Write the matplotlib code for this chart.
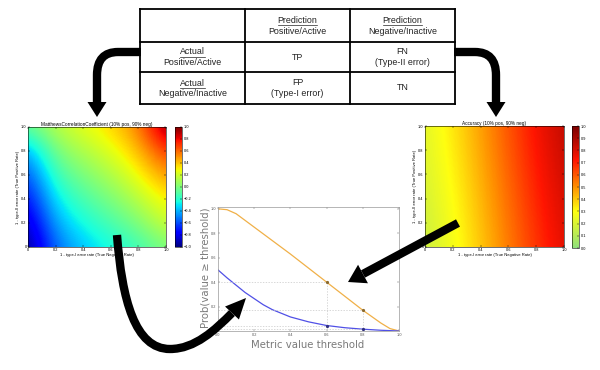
import numpy as np
import matplotlib.pyplot as plt
from matplotlib.colors import LinearSegmentedColormap
from matplotlib.path import Path
from matplotlib.patches import PathPatch, Polygon

plt.rcParams['font.family'] = ['Liberation Sans', 'DejaVu Sans']

# confusion table text
header_top = ['Prediction', 'Prediction']
header_sub = ['Positive/Active', 'Negative/Inactive']
row_top = ['Actual', 'Actual']
row_sub = ['Positive/Active', 'Negative/Inactive']
cells = [['TP', 'FN\n(Type-II error)'],
         ['FP\n(Type-I error)', 'TN']]

# MCC heatmap (rows: TPR 0..1, cols: TNR 0..1)
grid_pts = [0.0, 0.2, 0.4, 0.6, 0.8, 1.0]
mcc_vals = [
    [-1.0, -0.535, -0.361, -0.25, -0.156, 0.0],
    [-0.885, -0.41, -0.242, -0.124, 0.0, 0.2],
    [-0.758, -0.281, -0.122, 0.0, 0.145, 0.32],
    [-0.612, -0.145, 0.0, 0.122, 0.281, 0.5],
    [-0.429, 0.0, 0.124, 0.242, 0.41, 0.72],
    [-0.05, 0.156, 0.25, 0.361, 0.535, 1.0],
]
# accuracy heatmap corners
acc_pts = [0.0, 1.0]
acc_vals = [[0.0, 0.9],
            [0.1, 1.0]]

# survival curves
thr = [0, 0.05, 0.1, 0.15, 0.2, 0.25, 0.3, 0.4, 0.5, 0.6, 0.7, 0.8, 0.9, 0.95, 1.0]
prob_acc = [1.0, 0.993, 0.96, 0.905, 0.85, 0.795, 0.74, 0.63, 0.515, 0.40, 0.285, 0.17,
            0.065, 0.02, 0.0]
prob_mcc = [0.5, 0.435, 0.375, 0.315, 0.265, 0.215, 0.175, 0.115, 0.075, 0.045, 0.027,
            0.015, 0.006, 0.003, 0.0]
mark_thr = [0.6, 0.8]
mark_acc = [0.40, 0.17]
mark_mcc = [0.045, 0.015]

W, H = 600, 370
fig = plt.figure(figsize=(6, 3.7), dpi=100)


def rect(l, t, r, b):
    return [l / W, 1 - b / H, (r - l) / W, (b - t) / H]


def heatmap(box, cbox, vals, pts, cmap, vmin, vmax, title, cticks):
    ax = fig.add_axes(rect(*box))
    step = pts[1] - pts[0]
    ext = [pts[0] - step / 2, pts[-1] + step / 2, pts[0] - step / 2, pts[-1] + step / 2]
    im = ax.imshow(np.array(vals), origin='lower', extent=ext, cmap=cmap,
                   vmin=vmin, vmax=vmax, interpolation='bicubic',
                   interpolation_stage='data', aspect='auto')
    ax.set_xlim(0, 1)
    ax.set_ylim(0, 1)
    ticks = [0, 0.2, 0.4, 0.6, 0.8, 1.0]
    labs = ['0', '0.2', '0.4', '0.6', '0.8', '1.0']
    ax.set_xticks(ticks, labs)
    ax.set_yticks(ticks, labs)
    ax.tick_params(direction='in', top=True, right=True, length=1.5, width=0.3,
                   labelsize=2.8, pad=1)
    for s in ax.spines.values():
        s.set_linewidth(0.4)
    ax.set_title(title, fontsize=3.4, pad=1)
    ax.set_xlabel('1 - type-I error rate (True Negative Rate)', fontsize=3, labelpad=0.5)
    ax.set_ylabel('1 - type-II error rate (True Positive Rate)', fontsize=3, labelpad=1)
    cax = fig.add_axes(rect(*cbox))
    cb = fig.colorbar(im, cax=cax, ticks=cticks)
    cb.outline.set_linewidth(0.4)
    cax.tick_params(labelsize=2.8, length=1.2, width=0.3, direction='in', pad=1)
    return ax


heatmap((28, 127, 166, 247), (175, 127, 182, 247), mcc_vals, grid_pts, 'jet', -1, 1,
        'MatthewsCorrelationCoefficient (10% pos, 90% neg)',
        np.linspace(-1, 1, 11))

acc_cmap = LinearSegmentedColormap.from_list(
    'acc', [(0.0, '#90e07c'), (0.3, '#ffff10'), (0.5, '#ff9000'),
            (0.72, '#ff1500'), (1.0, '#7a0000')])
heatmap((425, 126, 564, 247), (572, 126, 579, 248), acc_vals, acc_pts, acc_cmap, 0, 1,
        'Accuracy (10% pos, 90% neg)', np.linspace(0, 1, 11))

# threshold plot
ax3 = fig.add_axes(rect(218, 207, 399, 331))
ax3.plot(thr, prob_acc, color='#f0b048', lw=0.9)
ax3.plot(thr, prob_mcc, color='#5050e6', lw=0.9)
for t, a, m in zip(mark_thr, mark_acc, mark_mcc):
    ax3.plot([t, t], [0, a], ls='--', color='#c8c8c8', lw=0.5, dashes=(2, 2))
    ax3.plot([0, t], [a, a], ls='--', color='#c8c8c8', lw=0.5, dashes=(2, 2))
    ax3.plot([0, t], [m, m], ls='--', color='#c8c8c8', lw=0.5, dashes=(2, 2))
    ax3.plot([t], [a], 'o', ms=1.3, color='#8a6a30')
    ax3.plot([t], [m], 'o', ms=1.3, color='#303080')
ax3.set_xlim(0, 1)
ax3.set_ylim(0, 1.015)
ax3.set_xticks([0, 0.2, 0.4, 0.6, 0.8, 1.0])
ax3.set_yticks([0.2, 0.4, 0.6, 0.8, 1.0])
ax3.tick_params(direction='in', top=True, right=True, length=1.5, width=0.3,
                labelsize=2.8, pad=1.5, colors='#555555')
for s in ax3.spines.values():
    s.set_linewidth(0.5)
    s.set_color('#999999')
fig.text(205 / W, 1 - 268 / H, 'Prob(value \u2265 threshold)', rotation=90,
         ha='center', va='center', fontsize=7.3, color='#7a7a7a', family='DejaVu Sans')
fig.text(308 / W, 1 - 345 / H, 'Metric value threshold', ha='center', va='center',
         fontsize=7.3, color='#7a7a7a', family='DejaVu Sans')

# overlay in pixel coordinates for the table and arrows
ov = fig.add_axes([0, 0, 1, 1], zorder=10)
ov.set_xlim(0, W)
ov.set_ylim(H, 0)
ov.axis('off')
ov.patch.set_alpha(0)

xs = [140, 245, 350, 455]
ys = [9, 42, 72, 104]
for x in xs:
    ov.plot([x, x], [ys[0], ys[-1]], color='k', lw=1.3, solid_capstyle='projecting')
for y in ys:
    ov.plot([xs[0], xs[-1]], [y, y], color='k', lw=1.3, solid_capstyle='projecting')

cx = [(xs[i] + xs[i + 1]) / 2 for i in range(3)]
cy = [(ys[i] + ys[i + 1]) / 2 for i in range(3)]
fs = 6.4
underlined = []
for j in range(2):
    underlined.append(ov.text(cx[j + 1], cy[0] - 5, header_top[j], ha='center', va='center',
                              fontsize=fs, color='#222222'))
    ov.text(cx[j + 1], cy[0] + 6, header_sub[j], ha='center', va='center',
            fontsize=fs, color='#222222')
for i in range(2):
    underlined.append(ov.text(cx[0], cy[i + 1] - 5, row_top[i], ha='center', va='center',
                              fontsize=fs, color='#222222'))
    ov.text(cx[0], cy[i + 1] + 5.5, row_sub[i], ha='center', va='center',
            fontsize=fs, color='#222222')
    for j in range(2):
        ov.text(cx[j + 1], cy[i + 1], cells[i][j], ha='center', va='center',
                fontsize=fs, color='#222222', linespacing=1.25)

fig.canvas.draw()
for t in underlined:
    bb = t.get_window_extent()
    yline = H - bb.y0 + 0.3
    ov.plot([bb.x0, bb.x1], [yline, yline], color='#222222', lw=0.5)


def arrow(verts, codes, tip, width=19, lw=6):
    ov.add_patch(PathPatch(Path(verts, codes), fill=False, lw=lw, edgecolor='k',
                           capstyle='butt', joinstyle='round'))
    base = np.array(verts[-1], float)
    tip = np.array(tip, float)
    d = (tip - base) / np.hypot(*(tip - base))
    n = np.array([-d[1], d[0]])
    ov.add_patch(Polygon([tip, base + n * width / 2, base - n * width / 2],
                         closed=True, fc='k', ec='none'))


M, L, C3, C4 = Path.MOVETO, Path.LINETO, Path.CURVE3, Path.CURVE4
arrow([(141, 52), (118, 52), (97, 52), (97, 75), (97, 102)], [M, L, C3, C3, L], (97, 117))
arrow([(454, 52), (475, 52), (496, 52), (496, 75), (496, 102)], [M, L, C3, C3, L], (496, 117))
arrow([(117, 235), (122, 300), (135, 349), (170, 349), (195, 349), (215, 330), (232, 313)],
      [M, C4, C4, C4, C4, C4, C4], (246, 298), width=19)
arrow([(458, 223), (363, 274)], [M, L], (348, 282), width=21)

fig.savefig('out.png', dpi=100)
